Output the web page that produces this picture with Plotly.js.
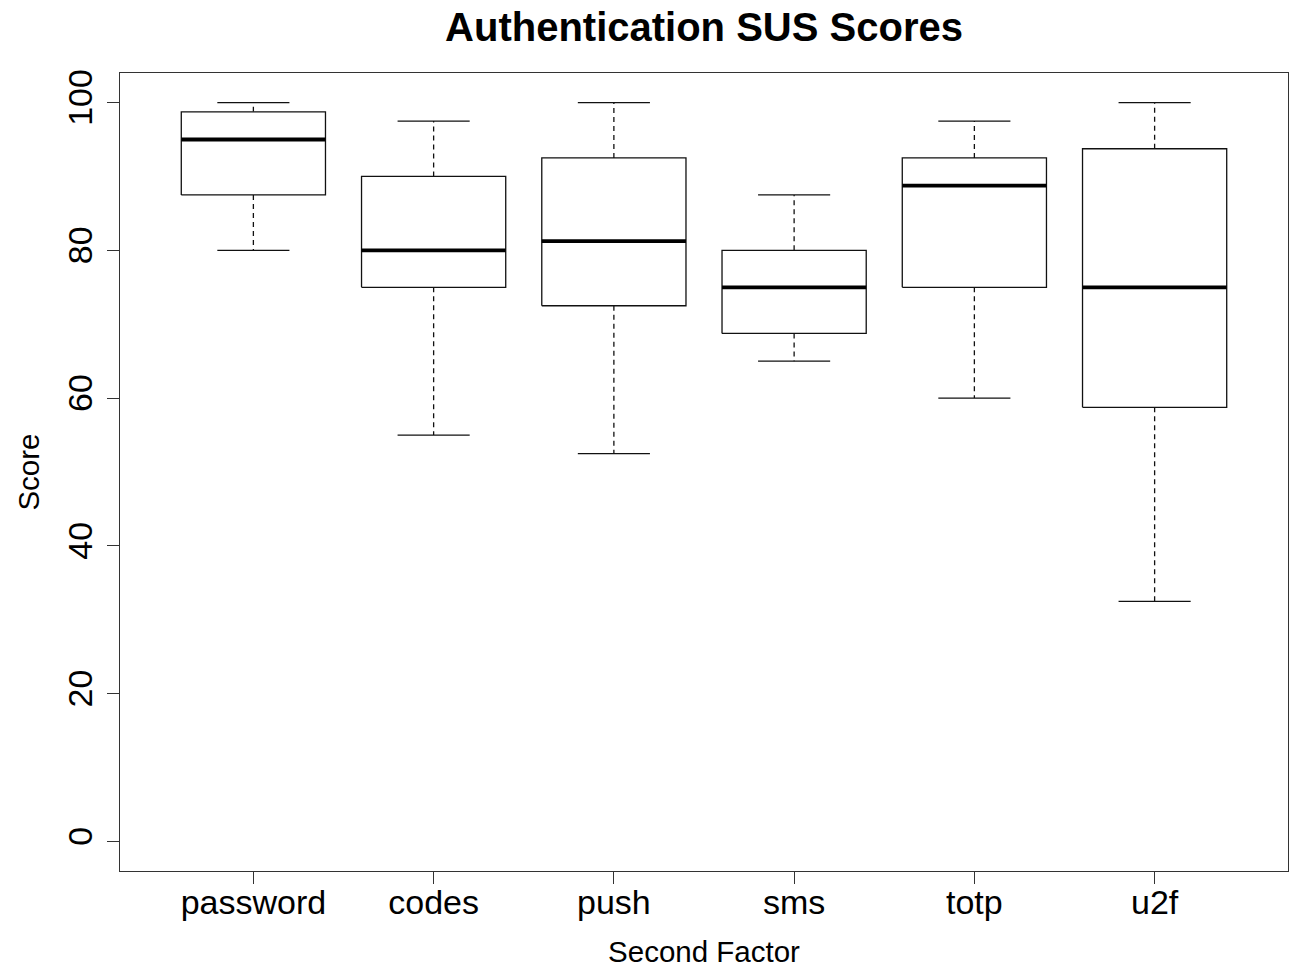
<!DOCTYPE html>
<html>
<head>
<meta charset="utf-8">
<script src="https://cdn.plot.ly/plotly-3.0.1.min.js"></script>
<style>
  html, body { margin: 0; padding: 0; background: #fff; }
  #chart { width: 1299px; height: 971px; }
</style>
</head>
<body>
<div id="chart"></div>
<script>
// SUS score summary per second factor (five-number summaries)
const factors  = ["password", "codes", "push", "sms", "totp", "u2f"];
const lowWhisk = [80,    55,    52.5,  65,    60,    32.5];
const q1       = [87.5,  75,    72.5,  68.75, 75,    58.75];
const median   = [95,    80,    81.25, 75,    88.75, 75];
const q3       = [98.75, 90,    92.5,  80,    92.5,  93.75];
const highWhisk= [100,   97.5,  100,   87.5,  97.5,  100];
const yTicks   = [0, 20, 40, 60, 80, 100];

const boxHalf = 0.4;   // half box width, in category units
const capHalf = 0.2;   // half whisker-cap width

const boxX = [], boxY = [], medX = [], medY = [];
const whX = [], whY = [], capX = [], capY = [];
factors.forEach((f, i) => {
  const c = i + 1;
  boxX.push(c - boxHalf, c + boxHalf, c + boxHalf, c - boxHalf, c - boxHalf, null);
  boxY.push(q1[i], q1[i], q3[i], q3[i], q1[i], null);
  medX.push(c - boxHalf, c + boxHalf, null);
  medY.push(median[i], median[i], null);
  whX.push(c, c, null, c, c, null);
  whY.push(q3[i], highWhisk[i], null, q1[i], lowWhisk[i], null);
  capX.push(c - capHalf, c + capHalf, null, c - capHalf, c + capHalf, null);
  capY.push(highWhisk[i], highWhisk[i], null, lowWhisk[i], lowWhisk[i], null);
});

const common = { type: "scatter", mode: "lines", hoverinfo: "skip", showlegend: false };
const traces = [
  Object.assign({}, common, { x: whX, y: whY, line: { color: "#111", width: 1.3, dash: "5px,4px" } }),
  Object.assign({}, common, { x: capX, y: capY, line: { color: "#111", width: 1.3 } }),
  Object.assign({}, common, { x: boxX, y: boxY, fill: "toself", fillcolor: "#fff", line: { color: "#111", width: 1.3 } }),
  Object.assign({}, common, { x: medX, y: medY, line: { color: "#000", width: 3.8 } })
];

const font = "'Liberation Sans', Arial, Helvetica, sans-serif";
const layout = {
  width: 1299, height: 971,
  paper_bgcolor: "#fff", plot_bgcolor: "#fff",
  margin: { l: 120, r: 11, t: 73, b: 100 },
  font: { family: font, color: "#000" },
  title: {
    text: "<b>Authentication SUS Scores</b>",
    font: { family: font, size: 40, color: "#000" },
    x: 0.5, xanchor: "center", xref: "paper",
    y: 1 - 27 / 971, yanchor: "middle", yref: "container"
  },
  xaxis: {
    range: [0.26, 6.74],
    tickmode: "array", tickvals: factors.map((f, i) => i + 1), ticktext: factors,
    ticks: "outside", ticklen: 12, tickwidth: 1, tickcolor: "#333",
    ticklabelstandoff: -11,
    tickfont: { family: font, size: 34, color: "#000" },
    showline: true, mirror: true, linecolor: "#333", linewidth: 1.2,
    showgrid: false, zeroline: false,
    title: { text: "Second Factor", font: { family: font, size: 29.5, color: "#000" }, standoff: 21 }
  },
  yaxis: {
    range: [-4, 104],
    tickmode: "array", tickvals: yTicks, ticktext: yTicks.map(String),
    tickangle: -90,
    ticks: "outside", ticklen: 12, tickwidth: 1, tickcolor: "#333",
    ticklabelstandoff: 1,
    tickfont: { family: font, size: 34, color: "#000" },
    showline: true, mirror: true, linecolor: "#333", linewidth: 1.2,
    showgrid: false, zeroline: false,
    title: { text: "Score", font: { family: font, size: 29.5, color: "#000" }, standoff: 12 }
  }
};

Plotly.newPlot("chart", traces, layout, { staticPlot: true, displayModeBar: false });
</script>
</body>
</html>
